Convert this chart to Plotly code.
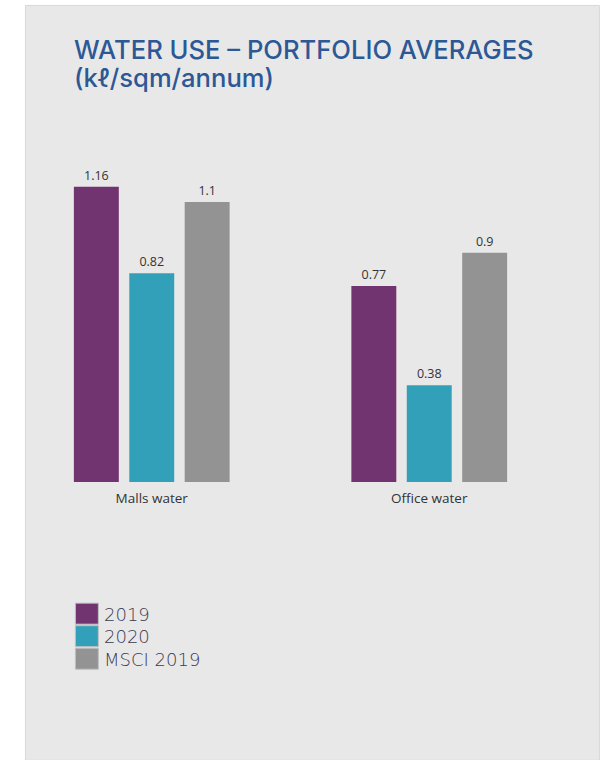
import plotly.graph_objects as go

categories = ["Malls water", "Office water"]
series_names = ["2019", "2020", "MSCI 2019"]
values_2019 = [1.16, 0.77]
values_2020 = [0.82, 0.38]
values_msci = [1.1, 0.9]
series_values = [values_2019, values_2020, values_msci]
colors = ["#713470", "#33a0ba", "#939393"]
title_lines = ["WATER USE – PORTFOLIO AVERAGES", "(kℓ/sqm/annum)"]

W, H = 601, 760
ML, MR = 12.5, 32.5
base_px = 482
ymax = 1.3
px_per_unit = 254.3
MT = base_px - ymax * px_per_unit
MB = H - base_px
plot_w = W - ML - MR
plot_h = base_px - MT

def px_to_paper_x(px):
    return (px - ML) / plot_w

def px_to_paper_y(py):
    return (base_px - py) / plot_h

FONT = "Open Sans"
TFONT = "Inter"
LFONT = "DejaVu Sans"

fig = go.Figure()
for name, vals, col in zip(series_names, series_values, colors):
    fig.add_trace(go.Bar(
        x=categories, y=vals, name=name, marker_color=col,
        marker_line_width=0,
        text=[str(v) for v in vals], textposition="outside",
        textfont=dict(family=FONT, size=12.5, color="#333333"),
        cliponaxis=False, showlegend=False,
    ))

shapes = [dict(type="rect", xref="paper", yref="paper", layer="below",
               x0=px_to_paper_x(25), x1=px_to_paper_x(600),
               y0=px_to_paper_y(6), y1=px_to_paper_y(760),
               fillcolor="#e8e8e8", line=dict(color="#d8d8d8", width=1))]
annotations = []
for i, line in enumerate(title_lines):
    annotations.append(dict(
        text=line, xref="paper", yref="paper",
        x=px_to_paper_x(72), y=px_to_paper_y(50 + 28 * i),
        xanchor="left", yanchor="middle", align="left", showarrow=False,
        font=dict(family=TFONT, size=25.6, weight=550, color="#2d5896"),
    ))

# manual legend with large swatches
leg_x0, leg_y0, sw, pitch = 75, 603, 23, 22.5
for i, (name, col) in enumerate(zip(series_names, colors)):
    top = leg_y0 + i * pitch
    shapes.append(dict(type="rect", xref="paper", yref="paper",
                       x0=px_to_paper_x(leg_x0), x1=px_to_paper_x(leg_x0 + sw),
                       y0=px_to_paper_y(top), y1=px_to_paper_y(top + 21),
                       fillcolor=col, line=dict(color="#c0c0c0", width=1)))
    annotations.append(dict(text=name, xref="paper", yref="paper",
                            x=px_to_paper_x(102), y=px_to_paper_y(top + 11),
                            xanchor="left", yanchor="middle", showarrow=False,
                            font=dict(family=LFONT, size=18, weight=300,
                                      color="#3b3b52")))

fig.update_layout(
    width=W, height=H,
    margin=dict(l=ML, r=MR, t=MT, b=MB, pad=0),
    paper_bgcolor="white", plot_bgcolor="rgba(0,0,0,0)",
    barmode="group", bargap=0.401, bargroupgap=0.189,
    showlegend=False,
    shapes=shapes, annotations=annotations,
    xaxis=dict(showgrid=False, zeroline=False, showline=False, ticks="",
               ticklabelstandoff=6,
               tickfont=dict(family=FONT, size=13.5, color="#333333")),
    yaxis=dict(range=[0, ymax], visible=False, showgrid=False, zeroline=False),
)
fig.write_html("out.html")
